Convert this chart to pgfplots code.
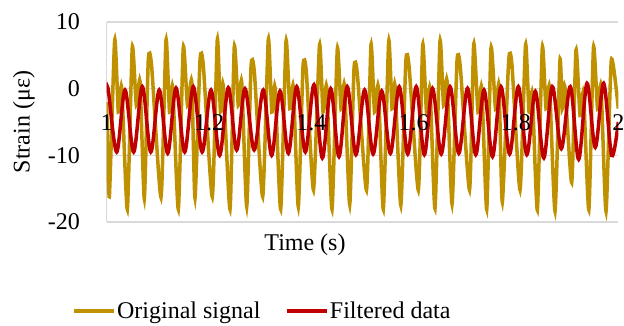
\documentclass[border=0pt]{standalone}
\usepackage{pgfplots}
\pgfplotsset{compat=1.18}
\usepackage{fontspec}
\setmainfont{Liberation Serif}
\definecolor{gold}{HTML}{BF9000}
\definecolor{dred}{HTML}{C00000}
\definecolor{gridgray}{HTML}{D9D9D9}
\pgfplotsset{
  layers/labelsontop/.define layer set={
    axis background,axis grid,axis ticks,axis lines,pre main,main,
    axis tick labels,axis descriptions,axis foreground}{/pgfplots/layers/standard},
}
\begin{document}
\begin{tikzpicture}
\begin{axis}[
  set layers=labelsontop,
  scale only axis, width=511.6bp, height=200bp,
  xmin=1, xmax=2, ymin=-20, ymax=10,
  font=\fontsize{24bp}{28bp}\selectfont,
  /pgf/number format/assume math mode=true,
  axis y line*=left, axis x line*=bottom,
  x axis line style={draw=none},
  y axis line style={draw=gridgray, line width=1.3bp},
  major tick length=0pt,
  ytick={-20,-10,0,10}, yticklabels={-20,-10,0,10},
  xtick={1,1.2,1.4,1.6,1.8,2}, xticklabels={1,1.2,1.4,1.6,1.8,2},
  ymajorgrids, grid style={gridgray, line width=1.3bp},
  yticklabel style={anchor=east, inner sep=0pt, xshift=-26.7bp},
  xticklabel style={anchor=center, inner sep=0pt, yshift=99bp},
  xlabel={Time (s)}, ylabel={Strain (με)},
  xlabel style={at={(axis description cs:0.3876,-0.115)}, anchor=center, inner sep=0pt},
  ylabel style={at={(axis description cs:-0.1617,0.5)}, anchor=center, inner sep=0pt},
  legend style={at={(-0.068,-0.445)}, anchor=west, draw=none, fill=none,
    inner sep=0pt, nodes={inner sep=1.5bp},
    /tikz/every even column/.append style={column sep=23bp}},
  legend columns=2,
  legend image code/.code={\draw[#1] (0bp,0bp) -- (40bp,0bp);},
]
\addplot[gold, line width=3.5bp, smooth, tension=0.35] coordinates {
(1.0000,-2) (1.0051,-16.2) (1.0156,7.3) (1.0227,-3.5) (1.0293,0.2) (1.0403,-18.1)
(1.0500,6.2) (1.0579,-2.5) (1.0651,1.1) (1.0735,-16.5) (1.0813,4.3) (1.0878,3.4) (1.1061,-16.3)
(1.1159,7.3) (1.1228,-3.5) (1.1290,0.2) (1.1400,-18.1) (1.1497,6.2) (1.1579,-2.5)
(1.1662,1.1) (1.1726,-16.4) (1.1824,4.3) (1.1889,3.4) (1.2064,-16.2) (1.2162,7.4) (1.2224,-3.5)
(1.2279,0.5) (1.2410,-18.1) (1.2494,6.3) (1.2572,-2.5) (1.2639,1.0) (1.2737,-17.7)
(1.2821,3.3) (1.2886,2.5) (1.3049,-16.2) (1.3159,7.4) (1.3227,-3.5) (1.3290,0.2) (1.3401,-18.1)
(1.3505,7.1) (1.3579,-3) (1.3648,0.3) (1.3745,-17.7) (1.3837,3.3) (1.3902,2.5) (1.4042,-15.2)
(1.4160,6.6) (1.4228,-3.5) (1.4300,0.3) (1.4404,-18.1) (1.4508,6.0) (1.4580,-3)
(1.4648,0.5) (1.4750,-17.4) (1.4834,3.0) (1.4899,2.2) (1.5078,-15.2) (1.5166,6.6) (1.5235,-3.5)
(1.5309,0.3) (1.5407,-18.1) (1.5512,7.1) (1.5577,-3) (1.5635,0.5) (1.5749,-17.5)
(1.5847,4.1) (1.5912,3.2) (1.6091,-15.2) (1.6177,6.6) (1.6251,-3.5) (1.6320,0) (1.6417,-18.0)
(1.6515,7.1) (1.6584,-2.5) (1.6652,1.2) (1.6750,-17.3) (1.6847,4.1) (1.6912,3.2) (1.7092,-15.2)
(1.7174,6.7) (1.7258,-3.5) (1.7330,0.2) (1.7428,-18.1) (1.7512,6.1) (1.7600,-3)
(1.7668,0.5) (1.7733,-17.0) (1.7858,4.3) (1.7923,3.4) (1.8079,-15.2) (1.8187,6.6) (1.8255,-3.5)
(1.8319,-0.7) (1.8417,-18.2) (1.8515,6.2) (1.8587,-3) (1.8656,0.2) (1.8763,-18.4)
(1.8860,4.3) (1.8905,-3) (1.8956,0.3) (1.9089,-14.1) (1.9173,5.8) (1.9252,-4) (1.9320,-0.7) (1.9424,-18.2)
(1.9515,6.2) (1.9594,-3) (1.9662,0.3) (1.9760,-18.4) (1.9864,4.3) (2.0000,-3)
};
\addlegendentry{Original signal}
\addplot[dred, line width=3.5bp, smooth, tension=0.55] coordinates {
(1.0000,-0.6) (1.0031,-0.2) (1.0195,-9.5) (1.0358,-0.2) (1.0527,-9.5) (1.0696,0.3)
(1.0862,-9.5) (1.1028,-0.2) (1.1192,-9.7) (1.1355,0.1) (1.1524,-9.5) (1.1693,0.3)
(1.1866,-9.5) (1.2039,-0.2) (1.2208,-10.0) (1.2377,0.15) (1.2540,-9.2) (1.2703,0.0)
(1.2882,-9.2) (1.3061,-0.2) (1.3224,-10.0) (1.3388,-0.35) (1.3551,-9.7) (1.3714,0.3)
(1.3883,-9.5) (1.4052,0.6) (1.4215,-10.4) (1.4379,0.0) (1.4540,-10.2) (1.4701,0.3)
(1.4871,-9.9) (1.5041,-0.2) (1.5208,-9.8) (1.5375,-0.35) (1.5546,-9.7) (1.5718,0.3)
(1.5884,-9.8) (1.6050,0.3) (1.6209,-9.9) (1.6368,0.05) (1.6539,-9.8) (1.6711,0.3)
(1.6882,-9.7) (1.7053,0.05) (1.7214,-9.9) (1.7375,-0.2) (1.7541,-10.2) (1.7707,0.3)
(1.7876,-9.8) (1.8046,0.3) (1.8212,-9.9) (1.8378,-0.4) (1.8544,-10.4) (1.8710,0.3)
(1.8886,-9.0) (1.9062,0.3) (1.9225,-10.6) (1.9388,0.8) (1.9550,-8.8) (1.9713,0.8)
(1.9870,-10.0) (2.0000,-5.0)
};
\addlegendentry{Filtered data}
\end{axis}
\pgfresetboundingbox
\useasboundingbox (-106.7bp,-104bp) rectangle (517.3bp,222bp);
\end{tikzpicture}
\end{document}
